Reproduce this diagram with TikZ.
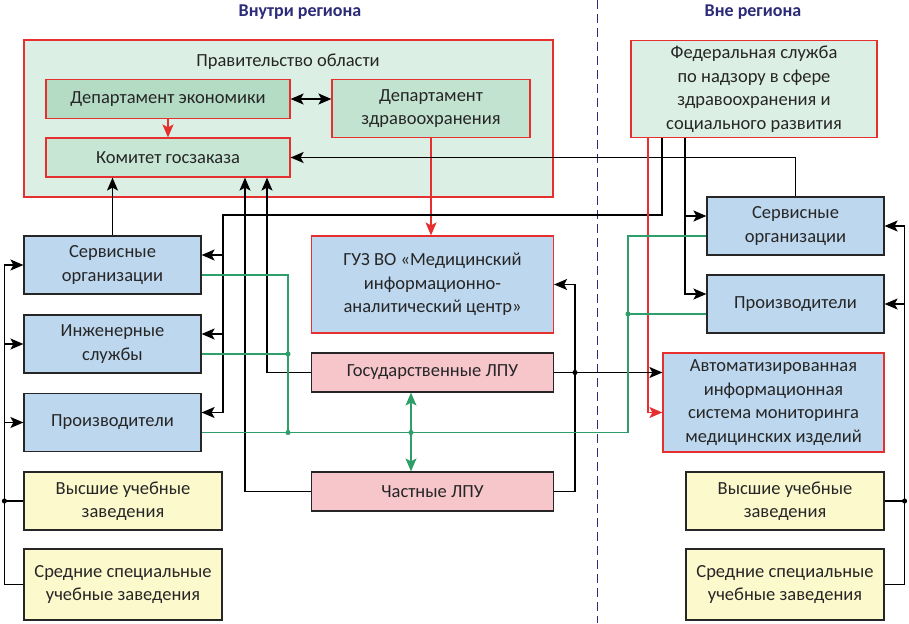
\documentclass[tikz,border=0pt]{standalone}
\usepackage{fontspec}
\setmainfont{Carlito}
\usetikzlibrary{arrows.meta}
\definecolor{govgreen}{HTML}{DCEFE4}
\definecolor{econgreen}{HTML}{B4DBC4}
\definecolor{ordergreen}{HTML}{C8E6D4}
\definecolor{healthgreen}{HTML}{C2E3CF}
\definecolor{boxblue}{HTML}{BDD7EE}
\definecolor{boxpink}{HTML}{F6C6CA}
\definecolor{boxyellow}{HTML}{FCF9CC}
\definecolor{linegreen}{HTML}{2E9E6B}
\definecolor{navy}{HTML}{2B2B78}
\definecolor{framered}{HTML}{E5302F}
\tikzset{
 head/.style={font=\fontsize{18}{20}\selectfont\bfseries,text=navy},
 gov/.style={draw=framered,fill=govgreen,line width=1.2pt},
 dept/.style={draw=framered,line width=1.2pt,align=center,inner sep=0pt},
 blue/.style={draw=black!85,fill=boxblue,line width=1.2pt,align=center,inner sep=0pt},
 bluered/.style={blue,draw=framered},
 pink/.style={blue,fill=boxpink},
 yellow/.style={blue,fill=boxyellow},
 link/.style={line width=1.4pt},
 rlink/.style={framered,line width=1.3pt},
 glink/.style={linegreen,line width=1.3pt},
 dot/.style={circle,fill=black,inner sep=1.8pt},
 gdot/.style={circle,fill=linegreen,inner sep=1.8pt}
}
\begin{document}
\begin{tikzpicture}[x=1pt,y=-1pt,>={Stealth[length=13pt,width=11pt,inset=3pt]},
 font=\fontsize{18.5}{23.5}\selectfont,text=black!85]
\useasboundingbox (0,0) rectangle (909,623);
% headings and border of the regions
\node[head] (inside) at (300,12) {Внутри региона};
\node[head] (outside) at (753,12) {Вне региона};
\draw[navy,line width=1pt,dash pattern=on 9pt off 5pt] (597,0) -- (597,623);

% government of the region
\node[gov,minimum width=529pt,minimum height=157pt] (gov) at (288.5,118.5) {};
\node (govtitle) at (288,62) {Правительство области};
\node[dept,fill=econgreen,minimum width=244pt,minimum height=39pt] (econ) at (168,99) {Департамент экономики};
\node[dept,fill=healthgreen,minimum width=198pt,minimum height=58pt] (health) at (431,108.5) {Департамент\\здравоохранения};
\node[dept,fill=ordergreen,minimum width=244pt,minimum height=39pt] (order) at (168,157.5) {Комитет госзаказа};
\node[gov,minimum width=246pt,minimum height=97pt,align=center,inner sep=0pt] (fed) at (754,89) {Федеральная служба\\по надзору в сфере\\здравоохранения и\\социального развития};

% left column
\node[blue,minimum width=177pt,minimum height=58pt] (servL) at (112.5,265) {Сервисные\\организации};
\node[blue,minimum width=177pt,minimum height=58pt] (engL) at (112.5,344) {Инженерные\\службы};
\node[blue,minimum width=177pt,minimum height=58pt] (prodL) at (112.5,422.5) {Производители};
\node[yellow,minimum width=198pt,minimum height=58pt] (highL) at (123,501) {Высшие учебные\\заведения};
\node[yellow,minimum width=198pt,minimum height=71pt] (midL) at (123,584.5) {Средние специальные\\учебные заведения};

% middle column
\node[bluered,minimum width=242pt,minimum height=97pt] (guz) at (432.5,284.5) {ГУЗ ВО «Медицинский\\информационно-\\аналитический центр»};
\node[pink,minimum width=242pt,minimum height=39pt] (gos) at (432.5,372.5) {Государственные ЛПУ};
\node[pink,minimum width=242pt,minimum height=39pt] (priv) at (432.5,491.5) {Частные ЛПУ};

% right column
\node[blue,minimum width=177pt,minimum height=58pt] (servR) at (795.5,226) {Сервисные\\организации};
\node[blue,minimum width=177pt,minimum height=58pt] (prodR) at (795.5,304) {Производители};
\node[bluered,minimum width=221pt,minimum height=99pt] (ais) at (773.5,402.5) {Автоматизированная\\информационная\\система мониторинга\\медицинских изделий};
\node[yellow,minimum width=198pt,minimum height=58pt] (highR) at (785,501) {Высшие учебные\\заведения};
\node[yellow,minimum width=198pt,minimum height=71pt] (midR) at (785,584.5) {Средние специальные\\учебные заведения};

% inside the government
\draw[<->,link] (econ.east) -- (econ.east -| health.west);
\draw[->,rlink] (econ.south) -- (order.north);
\draw[->,rlink] (health.south) -- (health.south |- guz.north);

% into the committee
\draw[->,link] (servR.north) |- (order.east);
\draw[->,link] (servL.north) -- (servL.north |- order.south);
\draw[->,link] (gos.west) -| ([xshift=99pt]order.south);
\draw[->,link] (priv.west) -| ([xshift=77pt]order.south);

% federal service
\coordinate (busA) at (223,215);
\coordinate (servLa) at ([yshift=10pt]servL.east);
\coordinate (engLa) at ([yshift=10pt]engL.east);
\coordinate (prodLa) at ([yshift=10pt]prodL.east);
\draw[->,link] ([xshift=-92pt]fed.south) |- (busA) |- (prodLa);
\draw[->,link] (servLa -| busA) -- (servLa);
\draw[->,link] (engLa -| busA) -- (engLa);
\coordinate (fedB) at ([xshift=-69pt]fed.south);
\coordinate (servRa) at ([yshift=10pt]servR.west);
\coordinate (prodRa) at ([yshift=10pt]prodR.west);
\draw[->,link] (fedB) |- (prodRa);
\draw[->,link] (fedB |- servRa) -- (servRa);
\coordinate (fedC) at ([xshift=-106pt]fed.south);
\coordinate (aisR) at ([yshift=-10pt]ais.west);
\draw[->,rlink] (fedC) |- (aisR);

% medical institutions
\node[dot] (jGos) at (575,372.5) {};
\coordinate (aisB) at ([yshift=30pt]ais.west);
\draw[->,link] (gos.east) -- (aisB);
\draw[->,link] (priv.east) -| (jGos.center |- guz.east) -- (guz.east);

% left bus
\draw[->,link] (midL.west) -- ++(-19,0) |- (servL.west);
\draw[->,link] ([xshift=-19pt]engL.west) -- (engL.west);
\draw[->,link] ([xshift=-19pt]prodL.west) -- (prodL.west);
\draw[link] (highL.west) -- ++(-19,0) node[dot] (jHighL) {};

% right bus
\draw[->,link] (midR.east) -- ++(20,0) |- (servR.east);
\draw[->,link] ([xshift=20pt]prodR.east) -- (prodR.east);
\draw[link] (highR.east) -- ++(20,0) node[dot] (jHighR) {};

% green links
\coordinate (gcol) at (288,0);
\coordinate (gcolR) at (628,0);
\coordinate (gA) at ([yshift=-10pt]servL.east);
\coordinate (gB) at ([yshift=-10pt]engL.east);
\coordinate (gC) at ([yshift=-10pt]prodL.east);
\coordinate (gD) at ([yshift=-10pt]servR.west);
\coordinate (gE) at ([yshift=-10pt]prodR.west);
\coordinate (gLpu) at ([xshift=-21.5pt]gos.south);
\draw[glink] (gA) -| (gcol |- gC);
\draw[glink] (gB) -- (gcol |- gB) node[gdot] (gdotB) {};
\draw[glink] (gC) -| (gcolR |- gD) -- (gD);
\draw[glink] (gE) -- (gcolR |- gE) node[gdot] (gdotE) {};
\node[gdot] (gdotC) at (gcol |- gC) {};
\draw[<->,glink] (gLpu) -- (gLpu |- priv.north);
\node[gdot] (gdotL) at (gLpu |- gC) {};
\end{tikzpicture}
\end{document}
